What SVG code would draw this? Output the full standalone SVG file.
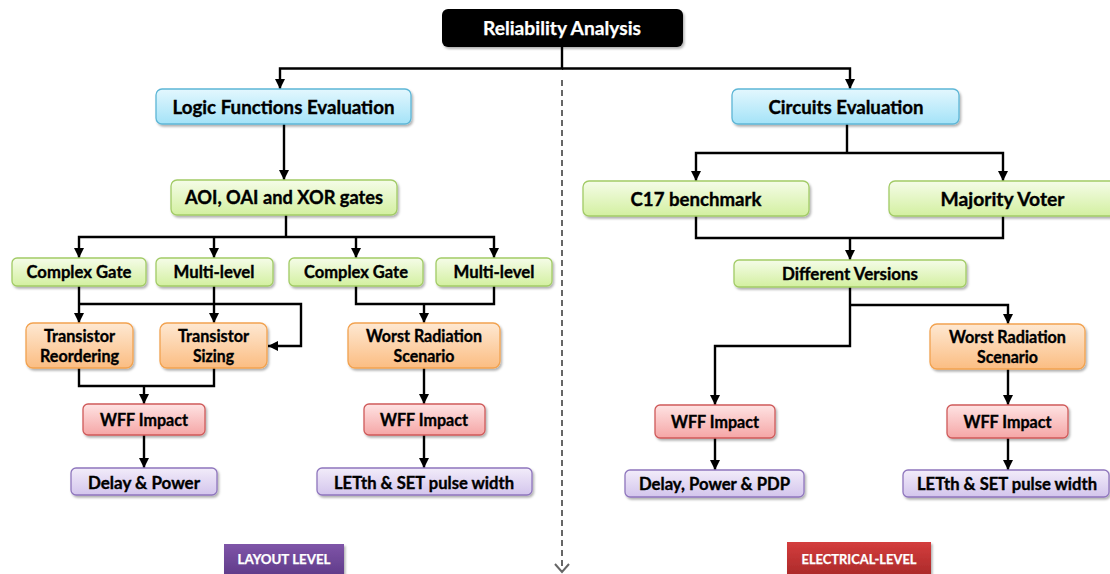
<svg xmlns="http://www.w3.org/2000/svg" width="1110" height="574" viewBox="0 0 1110 574">
  <defs>
    <style>
      .box { stroke-width: 1.3; filter: url(#shadow); }
      .blue { fill: url(#gBlue); stroke: #5db6d6; }
      .green { fill: url(#gGreen); stroke: #a2cb66; }
      .orange { fill: url(#gOrange); stroke: #f2a24f; }
      .red { fill: url(#gRed); stroke: #cf5a5a; }
      .purple { fill: url(#gPurple); stroke: #8f76bd; }
      text { font-family: Lato, "Open Sans", "Liberation Sans", sans-serif; font-weight: bold; fill: #000; stroke: #000; stroke-width: 0.35; text-anchor: middle; }
      .big { font-size: 18.5px; }
      .mid { font-size: 16.5px; }
      .light { fill: #fff; stroke: #fff; stroke-width: 0.25; }
      .tag { font-size: 12.5px; }
      .link { fill: none; stroke: #000; stroke-width: 2.4; }
      .arrow { marker-end: url(#head); }
      .divider { fill: none; stroke: #666; stroke-width: 2; stroke-dasharray: 6 4; }
    </style>
    <filter id="shadow" x="-10%" y="-20%" width="125%" height="160%">
      <feDropShadow dx="1.5" dy="2" stdDeviation="1.3" flood-color="#000" flood-opacity="0.3"/>
    </filter>
    <linearGradient id="gBlue" x1="0" y1="0" x2="0" y2="1">
      <stop offset="0" stop-color="#e3f7fe"/>
      <stop offset="1" stop-color="#a4e3f8"/>
    </linearGradient>
    <linearGradient id="gGreen" x1="0" y1="0" x2="0" y2="1">
      <stop offset="0" stop-color="#f5fce8"/>
      <stop offset="1" stop-color="#d3f0a0"/>
    </linearGradient>
    <linearGradient id="gOrange" x1="0" y1="0" x2="0" y2="1">
      <stop offset="0" stop-color="#fee8d2"/>
      <stop offset="1" stop-color="#fbbd82"/>
    </linearGradient>
    <linearGradient id="gRed" x1="0" y1="0" x2="0" y2="1">
      <stop offset="0" stop-color="#fee3e3"/>
      <stop offset="1" stop-color="#f5a6a6"/>
    </linearGradient>
    <linearGradient id="gPurple" x1="0" y1="0" x2="0" y2="1">
      <stop offset="0" stop-color="#f2ecfa"/>
      <stop offset="1" stop-color="#d3c5ec"/>
    </linearGradient>
    <linearGradient id="gTagPurple" x1="0" y1="0" x2="0" y2="1">
      <stop offset="0" stop-color="#7f55a8"/>
      <stop offset="1" stop-color="#5d3987"/>
    </linearGradient>
    <linearGradient id="gTagRed" x1="0" y1="0" x2="0" y2="1">
      <stop offset="0" stop-color="#d43d3d"/>
      <stop offset="1" stop-color="#a82828"/>
    </linearGradient>
    <marker id="head" viewBox="0 0 10 10" refX="10" refY="5" markerWidth="10" markerHeight="10" markerUnits="userSpaceOnUse" orient="auto">
      <path d="M0,0 L10,5 L0,10 Z" fill="#000"/>
    </marker>
  </defs>

  <!-- connectors -->
  <g id="connectors">
    <!-- dashed divider between the two halves -->
    <path class="divider" d="M562,80 V572"/>
    <path d="M555,564 L562,572 L569,564" fill="none" stroke="#666" stroke-width="2"/>

    <path class="link arrow" d="M562,47 V68.5 H280 V89"/>
    <path class="link arrow" d="M562,68.5 H850 V89"/>
    <path class="link arrow" d="M284,124 V180"/>

    <path class="link" d="M286,215 V237"/>
    <path class="link arrow" d="M286,237 H79 V258"/>
    <path class="link arrow" d="M214,237 V258"/>
    <path class="link arrow" d="M286,237 H494 V258"/>
    <path class="link arrow" d="M356,237 V258"/>

    <path class="link arrow" d="M79,286 V323"/>
    <path class="link arrow" d="M214,286 V323"/>
    <path class="link arrow" d="M79,304 H301 V346 H268"/>

    <path class="link" d="M79,368 V386 H214 V368"/>
    <path class="link arrow" d="M144,386 V404"/>
    <path class="link arrow" d="M144,435 V468"/>

    <path class="link" d="M356,286 V304 H494 V286"/>
    <path class="link arrow" d="M424,304 V323"/>
    <path class="link arrow" d="M424,368 V404"/>
    <path class="link arrow" d="M424,435 V468"/>

    <path class="link" d="M847,124 V153"/>
    <path class="link arrow" d="M847,153 H696 V181"/>
    <path class="link arrow" d="M847,153 H1003 V181"/>
    <path class="link" d="M696,216 V238 H1003 V216"/>
    <path class="link arrow" d="M850,238 V260"/>

    <path class="link arrow" d="M850,287 V346 H715 V405"/>
    <path class="link arrow" d="M850,305 H1008 V324"/>
    <path class="link arrow" d="M1008,369 V405"/>
    <path class="link arrow" d="M1008,438 V470"/>
    <path class="link arrow" d="M715,438 V470"/>
  </g>

  <!-- root -->
  <g id="reliability">
    <rect x="442" y="9" width="241" height="38" rx="6" fill="#000" filter="url(#shadow)"/>
    <text class="big light" x="562" y="35" textLength="158" lengthAdjust="spacingAndGlyphs">Reliability Analysis</text>
  </g>

  <!-- layout-level branch -->
  <g id="logic-functions">
    <rect class="box blue" x="156" y="89" width="255" height="35" rx="6"/>
    <text class="big" x="283.5" y="113.5" textLength="222" lengthAdjust="spacingAndGlyphs">Logic Functions Evaluation</text>
  </g>
  <g id="gates">
    <rect class="box green" x="171" y="180" width="226" height="35" rx="6"/>
    <text class="big" x="284" y="204" textLength="198" lengthAdjust="spacingAndGlyphs">AOI, OAI and XOR gates</text>
  </g>
  <g id="complex-gate-a">
    <rect class="box green" x="12" y="258" width="134" height="28" rx="5"/>
    <text class="mid" x="79" y="278" textLength="105" lengthAdjust="spacingAndGlyphs">Complex Gate</text>
  </g>
  <g id="multi-level-a">
    <rect class="box green" x="156" y="258" width="117" height="28" rx="5"/>
    <text class="mid" x="214" y="278" textLength="81" lengthAdjust="spacingAndGlyphs">Multi-level</text>
  </g>
  <g id="complex-gate-b">
    <rect class="box green" x="289" y="258" width="134" height="28" rx="5"/>
    <text class="mid" x="356" y="278" textLength="104" lengthAdjust="spacingAndGlyphs">Complex Gate</text>
  </g>
  <g id="multi-level-b">
    <rect class="box green" x="436" y="258" width="116" height="28" rx="5"/>
    <text class="mid" x="494" y="278" textLength="81" lengthAdjust="spacingAndGlyphs">Multi-level</text>
  </g>
  <g id="transistor-reordering">
    <rect class="box orange" x="26" y="323" width="107" height="45" rx="7"/>
    <text class="mid" x="79.5" y="341.5" textLength="71" lengthAdjust="spacingAndGlyphs">Transistor</text>
    <text class="mid" x="79.5" y="362" textLength="79" lengthAdjust="spacingAndGlyphs">Reordering</text>
  </g>
  <g id="transistor-sizing">
    <rect class="box orange" x="160" y="323" width="107" height="45" rx="7"/>
    <text class="mid" x="213.5" y="341.5" textLength="71" lengthAdjust="spacingAndGlyphs">Transistor</text>
    <text class="mid" x="213.5" y="362" textLength="41" lengthAdjust="spacingAndGlyphs">Sizing</text>
  </g>
  <g id="worst-radiation-a">
    <rect class="box orange" x="348" y="323" width="152" height="45" rx="7"/>
    <text class="mid" x="424" y="341.5" textLength="116" lengthAdjust="spacingAndGlyphs">Worst Radiation</text>
    <text class="mid" x="424" y="362" textLength="61" lengthAdjust="spacingAndGlyphs">Scenario</text>
  </g>
  <g id="wff-impact-a">
    <rect class="box red" x="83" y="404" width="122" height="31" rx="5"/>
    <text class="mid" x="144" y="425.5" textLength="88" lengthAdjust="spacingAndGlyphs">WFF Impact</text>
  </g>
  <g id="wff-impact-b">
    <rect class="box red" x="364" y="404" width="121" height="31" rx="5"/>
    <text class="mid" x="424" y="425.5" textLength="88" lengthAdjust="spacingAndGlyphs">WFF Impact</text>
  </g>
  <g id="delay-power">
    <rect class="box purple" x="71" y="468" width="146" height="27" rx="5"/>
    <text class="mid" x="144" y="488.5" textLength="112" lengthAdjust="spacingAndGlyphs">Delay &amp; Power</text>
  </g>
  <g id="let-set-a">
    <rect class="box purple" x="317" y="468" width="215" height="27" rx="5"/>
    <text class="mid" x="424" y="488.5" textLength="180" lengthAdjust="spacingAndGlyphs">LETth &amp; SET pulse width</text>
  </g>
  <g id="layout-level">
    <rect x="224" y="544" width="120" height="34" fill="url(#gTagPurple)" filter="url(#shadow)"/>
    <text class="tag light" x="284" y="564" textLength="93" lengthAdjust="spacingAndGlyphs">LAYOUT LEVEL</text>
  </g>

  <!-- electrical-level branch -->
  <g id="circuits">
    <rect class="box blue" x="732" y="89" width="227" height="35" rx="6"/>
    <text class="big" x="846" y="113.5" textLength="155" lengthAdjust="spacingAndGlyphs">Circuits Evaluation</text>
  </g>
  <g id="c17">
    <rect class="box green" x="583" y="181" width="226" height="35" rx="6"/>
    <text class="big" x="696" y="205.5" textLength="131" lengthAdjust="spacingAndGlyphs">C17 benchmark</text>
  </g>
  <g id="majority-voter">
    <rect class="box green" x="889" y="181" width="227" height="35" rx="6"/>
    <text class="big" x="1002.5" y="205.5" textLength="124" lengthAdjust="spacingAndGlyphs">Majority Voter</text>
  </g>
  <g id="different-versions">
    <rect class="box green" x="734" y="260" width="232" height="27" rx="5"/>
    <text class="mid" x="850" y="279.5" textLength="136" lengthAdjust="spacingAndGlyphs">Different Versions</text>
  </g>
  <g id="worst-radiation-b">
    <rect class="box orange" x="930" y="324" width="155" height="45" rx="7"/>
    <text class="mid" x="1007.5" y="342.5" textLength="117" lengthAdjust="spacingAndGlyphs">Worst Radiation</text>
    <text class="mid" x="1007.5" y="363" textLength="61" lengthAdjust="spacingAndGlyphs">Scenario</text>
  </g>
  <g id="wff-impact-c">
    <rect class="box red" x="655" y="405" width="120" height="33" rx="5"/>
    <text class="mid" x="715" y="427.5" textLength="88" lengthAdjust="spacingAndGlyphs">WFF Impact</text>
  </g>
  <g id="wff-impact-d">
    <rect class="box red" x="947" y="405" width="121" height="33" rx="5"/>
    <text class="mid" x="1007.5" y="427.5" textLength="88" lengthAdjust="spacingAndGlyphs">WFF Impact</text>
  </g>
  <g id="delay-power-pdp">
    <rect class="box purple" x="625" y="470" width="179" height="27" rx="5"/>
    <text class="mid" x="714.5" y="490" textLength="151" lengthAdjust="spacingAndGlyphs">Delay, Power &amp; PDP</text>
  </g>
  <g id="let-set-b">
    <rect class="box purple" x="903" y="470" width="206" height="27" rx="5"/>
    <text class="mid" x="1007" y="490" textLength="180" lengthAdjust="spacingAndGlyphs">LETth &amp; SET pulse width</text>
  </g>
  <g id="electrical-level">
    <rect x="787" y="542" width="144" height="36" fill="url(#gTagRed)" filter="url(#shadow)"/>
    <text class="tag light" x="859" y="564" textLength="115" lengthAdjust="spacingAndGlyphs">ELECTRICAL-LEVEL</text>
  </g>
</svg>
